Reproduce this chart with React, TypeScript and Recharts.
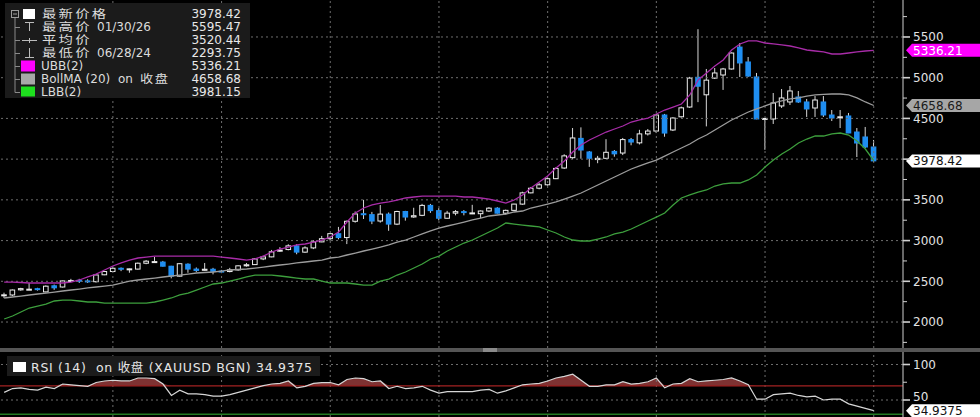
import React from 'react';
import { ComposedChart, Bar, Line, Area, XAxis, YAxis, ReferenceLine } from 'recharts';

const FONT = "'DejaVu Sans', 'Noto Sans CJK SC', sans-serif";
const CJK = "'Noto Sans CJK SC', 'DejaVu Sans', sans-serif";

// weekly candles, Friday dates
const dates24 = ['06/28/24','07/05/24','07/12/24','07/19/24','07/26/24','08/02/24','08/09/24','08/16/24','08/23/24','08/30/24','09/06/24','09/13/24','09/20/24','09/27/24','10/04/24','10/11/24','10/18/24','10/25/24','11/01/24','11/08/24','11/15/24','11/22/24','11/29/24','12/06/24','12/13/24','12/20/24','12/27/24'];
const dates25 = ['01/03/25','01/10/25','01/17/25','01/24/25','01/31/25','02/07/25','02/14/25','02/21/25','02/28/25','03/07/25','03/14/25','03/21/25','03/28/25','04/04/25','04/11/25','04/18/25','04/25/25','05/02/25','05/09/25','05/16/25','05/23/25','05/30/25','06/06/25','06/13/25','06/20/25','06/27/25','07/04/25','07/11/25','07/18/25','07/25/25','08/01/25','08/08/25','08/15/25','08/22/25','08/29/25','09/05/25','09/12/25','09/19/25','09/26/25','10/03/25','10/10/25','10/17/25','10/24/25','10/31/25','11/07/25','11/14/25','11/21/25','11/28/25','12/05/25','12/12/25','12/19/25','12/26/25'];
const dates26 = ['01/02/26','01/09/26','01/16/26','01/23/26','01/30/26','02/06/26','02/13/26','02/20/26','02/27/26','03/06/26','03/13/26','03/20/26','03/27/26','04/03/26','04/10/26','04/17/26','04/24/26','05/01/26','05/08/26','05/15/26','05/22/26','05/29/26','06/05/26','06/12/26','06/19/26','06/26/26'];
const dates = [...dates24, ...dates25, ...dates26];

const opens = [
  2328,2332,2395,2400,2410,2370,2445,2430,2500,2512,
  2505,2495,2580,2620,2660,2650,2650,2722,2736,2736,
  2685,2563,2710,2650,2635,2648,2625,2620,2640,2690,
  2705,2775,2800,2870,2890,2935,2858,2910,2984,3023,
  3085,3037,3237,3330,3319,3240,3325,3202,3357,3290,
  3310,3432,3368,3274,3337,3356,3336,3330,3363,3398,
  3336,3371,3448,3586,3643,3685,3760,3891,4018,4255,
  4088,3995,4010,4095,4075,4240,4200,4310,4345,4542,
  4358,4520,4640,5005,4790,4995,5033,5107,5376,5193,
  5009,4490,4493,4653,4702,4763,4702,4628,4702,4542,
  4510,4530,4333,4272,4149,
];
const highs = [
  2360,2400,2420,2480,2420,2450,2460,2510,2530,2530,
  2525,2585,2625,2675,2670,2656,2730,2760,2800,2750,
  2690,2720,2720,2670,2725,2665,2640,2665,2695,2725,
  2785,2815,2885,2920,2955,2955,2930,3005,3057,3087,
  3168,3245,3357,3500,3352,3437,3345,3366,3365,3403,
  3451,3450,3398,3365,3375,3375,3439,3370,3410,3410,
  3380,3452,3600,3658,3708,3790,3900,4060,4382,4390,
  4100,4040,4245,4112,4260,4260,4360,4370,4555,4555,
  4515,4645,5010,5595.47,5107,5119,5120,5310,5426,5254,
  5058,4505,4812,4861,4898,4837,4739,4775,4775,4603,
  4603,4567,4382,4395,4235,
];
const lows = [
  2293.75,2320,2385,2395,2385,2365,2395,2425,2490,2480,
  2480,2485,2575,2615,2625,2605,2645,2710,2730,2680,
  2536,2560,2605,2615,2630,2585,2600,2610,2630,2680,
  2700,2760,2795,2862,2880,2832,2850,2895,2980,3000,
  3015,2957,3220,3265,3202,3220,3120,3190,3245,3280,
  3300,3340,3248,3270,3310,3310,3325,3275,3350,3330,
  3320,3360,3440,3580,3630,3675,3755,3880,4000,4005,
  3905,3950,4000,4030,4050,4170,4180,4290,4320,4275,
  4345,4510,4630,4700,4402,4984,4850,5100,5009,5010,
  4490,4115,4432,4628,4665,4690,4518,4518,4518,4468,
  4382,4320,4026,4137,3965,
];
const closes = [
  2334,2393,2410,2403,2400,2440,2420,2505,2510,2502,
  2497,2578,2620,2660,2652,2653,2722,2747,2742,2685,
  2563,2716,2650,2633,2648,2622,2620,2640,2690,2703,
  2775,2800,2862,2882,2935,2858,2910,2984,3023,3085,
  3037,3237,3327,3319,3240,3325,3202,3357,3289,3305,
  3432,3368,3274,3337,3355,3350,3340,3363,3398,3336,
  3371,3448,3586,3643,3685,3760,3886,4040,4260,4112,
  4010,4010,4084,4065,4240,4210,4310,4345,4542,4320,
  4505,4630,4995,4895,4970,5058,5107,5303,5181,5020,
  4493,4500,4690,4751,4837,4702,4616,4726,4542,4505,
  4520,4321,4198,4149,3978.42,
];
const ubb = [
  2491,2491,2485,2479,2479,2479,2479,2479,2491,2516,
  2553,2589,2639,2688,2725,2761,2786,2798,2810,2810,
  2810,2810,2810,2810,2810,2810,2798,2786,2774,2761,
  2774,2810,2860,2896,2921,2946,2958,2982,3007,3044,
  3105,3228,3339,3400,3437,3461,3474,3498,3523,3535,
  3547,3547,3547,3547,3547,3535,3535,3523,3510,3486,
  3461,3498,3560,3646,3719,3793,3891,3977,4088,4174,
  4235,4284,4333,4370,4407,4456,4481,4505,4554,4603,
  4640,4677,4788,4972,5058,5144,5217,5340,5414,5451,
  5451,5426,5414,5402,5389,5365,5340,5328,5316,5291,
  5291,5303,5316,5328,5336.21,
];
const bollMa = [
  2295,2307,2319,2332,2344,2356,2368,2381,2393,2405,
  2418,2430,2442,2454,2479,2503,2516,2528,2540,2553,
  2565,2577,2589,2602,2608,2614,2626,2639,2645,2651,
  2663,2675,2688,2700,2712,2725,2737,2749,2761,2786,
  2798,2823,2847,2872,2896,2921,2946,2982,3007,3044,
  3081,3118,3154,3179,3203,3228,3253,3277,3302,3314,
  3326,3351,3363,3400,3424,3449,3474,3510,3547,3584,
  3633,3682,3732,3781,3830,3879,3916,3953,3989,4038,
  4088,4137,4186,4247,4296,4358,4419,4481,4530,4579,
  4616,4653,4690,4714,4739,4751,4775,4788,4794,4800,
  4800,4788,4751,4702,4658.68,
];
const lbb = [
  2037,2074,2123,2172,2196,2221,2258,2270,2270,2258,
  2246,2246,2233,2233,2233,2233,2233,2233,2246,2270,
  2295,2332,2356,2393,2430,2467,2479,2503,2528,2553,
  2577,2577,2577,2565,2553,2540,2528,2528,2503,2479,
  2479,2479,2467,2454,2454,2503,2528,2577,2614,2663,
  2712,2774,2810,2872,2921,2970,3007,3056,3105,3154,
  3216,3203,3191,3179,3167,3130,3093,3044,3007,2995,
  2995,3019,3044,3081,3105,3142,3191,3240,3289,3339,
  3437,3523,3560,3596,3621,3670,3695,3707,3707,3744,
  3805,3903,3989,4063,4124,4198,4247,4284,4284,4309,
  4321,4296,4223,4124,3981.15,
];
const rsi = [
  60.7,66.1,67.1,65.0,63.9,68.2,66.1,72.5,71.4,70.3,
  69.3,74.6,76.8,77.8,76.8,76.8,81.0,81.0,80.0,72.5,
  56.4,63.9,58.6,58.6,57.5,55.4,55.4,57.5,60.7,63.9,
  67.1,70.3,72.5,73.5,76.8,67.1,69.3,73.5,74.6,74.6,
  71.4,78.9,81.0,80.0,75.7,76.8,66.1,69.3,66.1,67.1,
  69.3,63.9,59.6,61.8,61.8,61.8,61.8,63.9,65.0,59.6,
  62.8,67.1,71.4,72.5,73.5,76.8,81.0,83.2,86.4,77.8,
  69.3,69.3,71.4,71.4,75.7,72.5,73.5,75.7,81.0,67.1,
  72.5,73.5,80.0,75.7,76.8,77.8,78.9,81.0,76.8,71.4,
  51.1,51.1,57.5,58.6,59.6,56.4,54.3,55.4,50.0,51.1,
  51.1,44.6,41.4,38.2,34.9375,
];

const priceTicks = [1750,2000,2250,2500,2750,3000,3250,3500,3750,4000,4250,4500,4750,5000,5250,5500,5750];
const priceGrid = [2000,2500,3000,3500,4000,4500,5000,5500];
const rsiTicks = [50, 75, 100];
const rsiGrid = [50, 100];
const quarterEnds = ['09/27/24','12/27/24','03/28/25','06/27/25','09/26/25','12/26/25','03/27/26','06/26/26'];
const padKeys = ['pad1', 'pad2', 'pad3'];

// legend rows: latin prefix, CJK part (+ x where it starts), latin suffix (+ x), value
const legendRows = [
  { pre: '', cjk: '最新价格', cjkX: 42, post: '', postX: 0, value: '3978.42' },
  { pre: '', cjk: '最高价', cjkX: 42, post: '01/30/26', postX: 97, value: '5595.47' },
  { pre: '', cjk: '平均价', cjkX: 42, post: '', postX: 0, value: '3520.44' },
  { pre: '', cjk: '最低价', cjkX: 42, post: '06/28/24', postX: 97, value: '2293.75' },
  { pre: 'UBB(2)', cjk: '', cjkX: 0, post: '', postX: 0, value: '5336.21' },
  { pre: 'BollMA (20)\u00A0 on', cjk: '收盘', cjkX: 140, post: '', postX: 0, value: '4658.68' },
  { pre: 'LBB(2)', cjk: '', cjkX: 0, post: '', postX: 0, value: '3981.15' },
];
const legendY = [14, 27, 40, 53, 66, 79, 92];

const lastIdx = dates.length - 1;
const lastClose = closes[lastIdx];

const rows: any[] = [
  ...dates.map((date, k) => ({
    date,
    open: opens[k], high: highs[k], low: lows[k], close: closes[k],
    range: [lows[k], highs[k]],
    ubb: ubb[k], ma: bollMa[k], lbb: lbb[k],
    rsi: rsi[k],
    ob: [70, Math.max(70, rsi[k])],
  })),
  ...padKeys.map((date) => ({ date })),
];

const UP_EDGE = '#ececec';
const DOWN_FILL = '#1f8ef1';

const Candle = (props: any) => {
  const { x, y, width, height, payload } = props;
  if (!payload || payload.high == null) return null;
  const top = Math.min(y, y + height);
  const h = Math.abs(height);
  const { open, close, high, low } = payload;
  const span = high - low || 1;
  const yOf = (v: number) => top + ((high - v) / span) * h;
  const cx = x + width / 2;
  const up = close >= open;
  const bTop = yOf(Math.max(open, close));
  const bBot = yOf(Math.min(open, close));
  const bh = Math.max(bBot - bTop, 1);
  const bw = 4.6;
  return (
    <g>
      <line x1={cx} x2={cx} y1={top} y2={top + h} stroke="#d6d6d6" strokeWidth={1} />
      {up ? (
        <rect x={cx - bw / 2} y={bTop} width={bw} height={bh} fill="#000" stroke={UP_EDGE} strokeWidth={1} />
      ) : (
        <rect x={cx - bw / 2 - 0.5} y={bTop - 0.5} width={bw + 1} height={bh + 1} fill={DOWN_FILL} />
      )}
    </g>
  );
};

// labels hidden behind the last-price tag (as in the reference)
const PriceTick = (props: any) => {
  const { x, y, payload } = props;
  const v = payload.value;
  const major = v % 500 === 0;
  const covered = Math.abs(v - lastClose) < 100;
  return (
    <g>
      <line x1={x} x2={x + (major ? 7 : 4)} y1={y} y2={y} stroke="#d0d0d0" strokeWidth={major ? 1.6 : 1} />
      {major && !covered && (
        <text x={x + 10} y={y} dy="0.36em" fill="#e2e2e2" fontSize={12} fontFamily={FONT}>{v}</text>
      )}
    </g>
  );
};

const RsiTick = (props: any) => {
  const { x, y, payload } = props;
  const v = payload.value;
  const major = v % 50 === 0;
  return (
    <g>
      <line x1={x} x2={x + (major ? 7 : 4)} y1={y} y2={y} stroke="#d0d0d0" strokeWidth={major ? 1.6 : 1} />
      {major && (
        <text x={x + 10} y={y} dy={v === 50 ? '0.1em' : '0.36em'} fill="#e2e2e2" fontSize={12} fontFamily={FONT}>{v}</text>
      )}
    </g>
  );
};

const TagLabel = (props: any) => {
  const { viewBox, text, bg, color } = props;
  if (!viewBox) return null;
  const left = viewBox.x + viewBox.width + 3;
  const cy = viewBox.y;
  const hh = 6.5;
  const pts = `${left},${cy} ${left + 6},${cy - hh} 980,${cy - hh} 980,${cy + hh} ${left + 6},${cy + hh}`;
  return (
    <g>
      <polygon points={pts} fill={bg} />
      <text x={left + 7} y={cy} dy="0.36em" fill={color} fontSize={12} fontFamily={FONT}>{text}</text>
    </g>
  );
};

const GRID = '#6e6e6e';

export default function App() {
  return (
    <div style={{ position: 'fixed', left: 0, top: 0, width: 980, height: 417, background: '#000', overflow: 'hidden' }}>
      <div style={{ position: 'absolute', left: 0, top: 0 }}>
        <ComposedChart width={980} height={348} data={rows} margin={{ top: 0, right: 0, bottom: 0, left: 0 }} barCategoryGap={0}>
          <XAxis dataKey="date" hide scale="band" />
          <YAxis
            orientation="right"
            width={77}
            type="number"
            domain={[1681, 5954]}
            allowDataOverflow
            ticks={priceTicks}
            interval={0}
            tickSize={0}
            tickMargin={0}
            tickLine={false}
            axisLine={{ stroke: '#cfcfcf' }}
            tick={<PriceTick />}
          />
          {priceGrid.map((v) => (
            <ReferenceLine key={'h' + v} y={v} stroke={GRID} strokeDasharray="2 3" />
          ))}
          {quarterEnds.map((d) => (
            <ReferenceLine key={'v' + d} x={d} stroke={GRID} strokeDasharray="2 3" />
          ))}
          <Line dataKey="lbb" stroke="#3d9f3d" strokeWidth={1.3} dot={false} isAnimationActive={false} />
          <Line dataKey="ma" stroke="#9c9c9c" strokeWidth={1.3} dot={false} isAnimationActive={false} />
          <Line dataKey="ubb" stroke="#a82ca8" strokeWidth={1.3} dot={false} isAnimationActive={false} />
          <Bar dataKey="range" shape={Candle} isAnimationActive={false} />
          <ReferenceLine y={ubb[lastIdx]} stroke="none" label={<TagLabel text={ubb[lastIdx].toFixed(2)} bg="#ff00ff" color="#ffffff" />} />
          <ReferenceLine y={bollMa[lastIdx]} stroke="none" label={<TagLabel text={bollMa[lastIdx].toFixed(2)} bg="#a6a6a6" color="#1a1a1a" />} />
          <ReferenceLine y={lastClose} stroke="none" label={<TagLabel text={lastClose.toFixed(2)} bg="#ffffff" color="#111111" />} />
        </ComposedChart>
      </div>

      <div style={{ position: 'absolute', left: 0, top: 348, width: 980, height: 4, background: '#555' }} />
      <div style={{ position: 'absolute', left: 483, top: 348, width: 14, height: 4, background: '#8a8a8a' }} />

      <div style={{ position: 'absolute', left: 0, top: 352 }}>
        <ComposedChart width={980} height={65} data={rows} margin={{ top: 0, right: 0, bottom: 0, left: 0 }} barCategoryGap={0}>
          <XAxis dataKey="date" hide scale="band" />
          <YAxis
            orientation="right"
            width={77}
            type="number"
            domain={[26.06, 117.6]}
            allowDataOverflow
            ticks={rsiTicks}
            interval={0}
            tickSize={0}
            tickMargin={0}
            tickLine={false}
            axisLine={{ stroke: '#cfcfcf' }}
            tick={<RsiTick />}
          />
          {rsiGrid.map((v) => (
            <ReferenceLine key={'rh' + v} y={v} stroke={GRID} strokeDasharray="2 3" />
          ))}
          {quarterEnds.map((d) => (
            <ReferenceLine key={'rv' + d} x={d} stroke={GRID} strokeDasharray="2 3" />
          ))}
          <ReferenceLine y={70} stroke="#a32222" strokeWidth={1.2} />
          <ReferenceLine y={30} stroke="#237a23" strokeWidth={1.6} />
          <Area dataKey="ob" fill="#7e3232" fillOpacity={1} stroke="none" isAnimationActive={false} />
          <Line dataKey="rsi" stroke="#d6d6d6" strokeWidth={1.2} dot={false} isAnimationActive={false} />
          <ReferenceLine y={rsi[lastIdx]} stroke="none" label={<TagLabel text={rsi[lastIdx].toFixed(4)} bg="#ffffff" color="#111111" />} />
        </ComposedChart>
      </div>

      {/* main legend */}
      <svg width={260} height={100} style={{ position: 'absolute', left: 0, top: 0 }}>
        <rect x={5} y={3} width={245} height={95} fill="#1b1b1b" />
        <rect x={11.5} y={10.5} width={7} height={7} fill="none" stroke="#9a9a9a" />
        <line x1={13} x2={17} y1={14} y2={14} stroke="#9a9a9a" />
        <line x1={15} x2={15} y1={18} y2={92.5} stroke="#8a8a8a" />
        {legendY.slice(1).map((yy) => (
          <line key={yy} x1={15} x2={20} y1={yy + 0.5} y2={yy + 0.5} stroke="#8a8a8a" />
        ))}
        <rect x={23} y={9} width={12} height={10} fill="#ffffff" />
        <line x1={25} x2={34} y1={22.5} y2={22.5} stroke="#bdbdbd" />
        <line x1={29.5} x2={29.5} y1={22.5} y2={31} stroke="#bdbdbd" />
        <line x1={22} x2={37} y1={40.5} y2={40.5} stroke="#bdbdbd" />
        <line x1={29.5} x2={29.5} y1={38} y2={43} stroke="#bdbdbd" />
        <line x1={29.5} x2={29.5} y1={48} y2={57} stroke="#bdbdbd" />
        <line x1={25} x2={34} y1={57.5} y2={57.5} stroke="#bdbdbd" />
        <rect x={21} y={60.5} width={14} height={11} fill="#ff00ff" />
        <rect x={21} y={73.5} width={14} height={11} fill="#a8a8a8" />
        <rect x={21} y={86.5} width={14} height={10} fill="#1ee01e" />
        {legendRows.map((r, k) => (
          <g key={k}>
            {r.pre && (
              <text x={41} y={legendY[k]} dy="0.36em" fill="#dcdcdc" fontSize={12} fontFamily={FONT}>{r.pre}</text>
            )}
            {r.cjk && (
              <text
                transform={`translate(${r.cjkX}, ${legendY[k]}) scale(${k === 5 ? 1.15 : 1.25}, 1)`}
                dy="0.36em"
                fill="#dcdcdc"
                fontSize={11.5}
                letterSpacing={k === 5 ? 1.4 : 1.8}
                fontFamily={CJK}
              >
                {r.cjk}
              </text>
            )}
            {r.post && (
              <text x={r.postX} y={legendY[k]} dy="0.36em" fill="#dcdcdc" fontSize={12} fontFamily={FONT}>{r.post}</text>
            )}
            <text x={241} y={legendY[k]} dy="0.36em" textAnchor="end" fill="#e8e8e8" fontSize={12} fontFamily={FONT}>{r.value}</text>
          </g>
        ))}
      </svg>

      {/* RSI legend */}
      <svg width={330} height={26} style={{ position: 'absolute', left: 0, top: 354 }}>
        <rect x={7} y={2} width={313} height={20} fill="#1b1b1b" />
        <rect x={13} y={8} width={13} height={10} fill="#ffffff" />
        <text x={31} y={13.5} dy="0.36em" fill="#e6e6e6" fontSize={12.5} fontFamily={FONT} textLength={281} lengthAdjust="spacing">
          {'RSI (14)\u00A0 on 收盘 (XAUUSD BGN) 34.9375'}
        </text>
      </svg>
    </div>
  );
}
